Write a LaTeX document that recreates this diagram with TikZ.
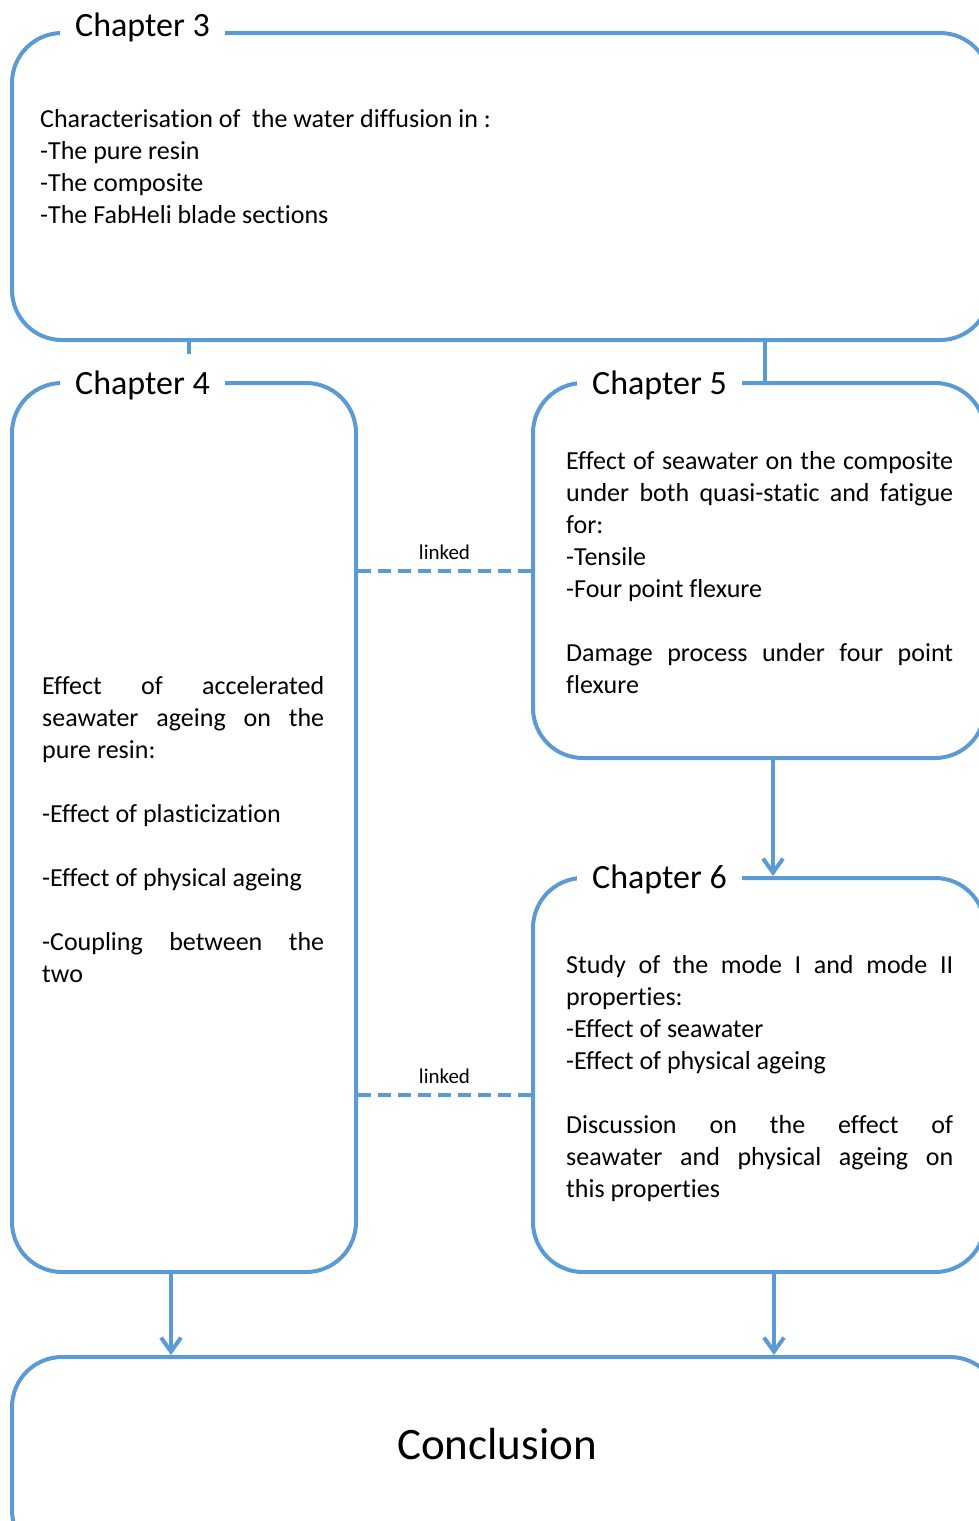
\documentclass[tikz,border=0pt]{standalone}
\usepackage{fontspec}
\setmainfont{Carlito}[RawFeature={-liga;-clig;-calt;-dlig}]
\usepackage{xcolor}
\usetikzlibrary{positioning,arrows.meta}
\definecolor{chapblue}{RGB}{91,155,213}
\hyphenpenalty=10000
\tolerance=10000

\begin{document}
\begin{tikzpicture}[x=1pt, y=-1pt,
  chapbox/.style={draw=chapblue, line width=4pt, rounded corners=50pt, inner sep=0pt},
  chaptitle/.style={fill=white, inner xsep=15pt, inner ysep=4pt, anchor=base west, font=\fontsize{34}{40}\selectfont},
  bodytext/.style={inner sep=0pt, anchor=north west, font=\fontsize{26}{32}\selectfont},
  flow/.style={draw=chapblue, line width=4pt, -{Straight Barb[length=14pt,width=20pt]}},
  link/.style={draw=chapblue, line width=4pt, dash pattern=on 13pt off 7pt},
  linklabel/.style={font=\fontsize{21}{25}\selectfont, inner sep=0pt, above=9pt}]
  \useasboundingbox (0,0) rectangle (979,1521);
  \clip (0,0) rectangle (979,1521);

  % boxes
  \node[chapbox, minimum width=978pt, minimum height=307pt] (ch3) at (501,186.5) {};
  \node[chapbox, minimum width=344pt, minimum height=889pt] (ch4) at (184,827.5) {};
  \node[chapbox, minimum width=452pt, minimum height=375pt] (ch5) at (759,570.5) {};
  \node[chapbox, minimum width=452pt, minimum height=394pt] (ch6) at (759,1075) {};
  \node[chapbox, minimum width=988pt, minimum height=203pt] (concl) at (506,1458.5) {};

  % titles
  \node[chaptitle] (ch3title) at (60,36) {Chapter 3};
  \node[chaptitle] (ch4title) at (60,394) {Chapter 4};
  \node[chaptitle] (ch5title) at (577,394) {Chapter 5};
  \node[chaptitle] (ch6title) at (577,888) {Chapter 6};

  % contents
  \node[bodytext, align=left] (ch3text) at (40,109)
    {Characterisation of~ the water diffusion in :\\-The pure resin\\-The composite\\-The FabHeli blade sections};
  \node[bodytext, text width=282pt, align=justify] (ch4text) at (42,676)
    {Effect of accelerated\linebreak seawater ageing on the\linebreak pure resin:\\[32pt]-Effect of plasticization\\[32pt]-Effect of physical ageing\\[32pt]-Coupling between the\linebreak two};
  \node[bodytext, text width=387pt, align=justify] (ch5text) at (566,451)
    {Effect of seawater on the composite\linebreak under both quasi-static and fatigue\linebreak for:\\-Tensile\\-Four point flexure\\[32pt]Damage process under four point\linebreak flexure};
  \node[bodytext, text width=387pt, align=justify] (ch6text) at (566,955)
    {Study of the mode I and mode II\linebreak properties:\\-Effect of seawater\\-Effect of physical ageing\\[32pt]Discussion on the effect of\linebreak seawater and physical ageing on\linebreak this properties};
  \node[font=\fontsize{45}{54}\selectfont, inner sep=0pt] (concltext) at (497,1444) {Conclusion};

  % connectors
  \coordinate (tick) at (189,354);
  \draw[chapblue, line width=4pt] (tick |- ch3.south) -- (tick);
  \draw[chapblue, line width=4pt] ([xshift=6pt]ch5.north) -- ([xshift=6pt]ch5.north |- ch3.south);
  \draw[flow] ([xshift=14pt]ch5.south) -- ([xshift=14pt]ch6.north);
  \draw[flow] ([xshift=-13pt]ch4.south) -- ([xshift=-13pt]ch4.south |- concl.north);
  \draw[flow] ([xshift=15pt]ch6.south) -- ([xshift=15pt]ch6.south |- concl.north);
  \draw[link] (ch5.west -| ch4.east) -- node[linklabel] (link1) {linked} (ch5.west);
  \draw[link] ([yshift=-20pt]ch6.west -| ch4.east) -- node[linklabel] (link2) {linked} ([yshift=-20pt]ch6.west);
\end{tikzpicture}
\end{document}
